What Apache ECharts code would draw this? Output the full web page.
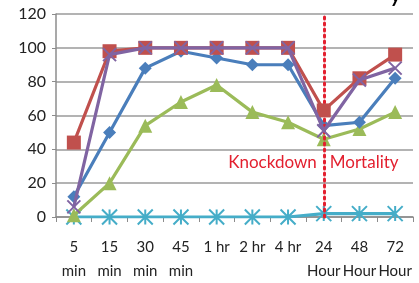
<!DOCTYPE html>
<html>
<head>
<meta charset="utf-8">
<script src="https://cdn.jsdelivr.net/npm/echarts@6/dist/echarts.min.js"></script>
<style>
  html, body { margin: 0; padding: 0; background: #fff; }
  #chart { width: 419px; height: 283px; }
</style>
</head>
<body>
<div id="chart"></div>
<script>
// time points
const categories = ['5\nmin', '15\nmin', '30\nmin', '45\nmin', '1 hr', '2 hr', '4 hr', '24\nHour', '48\nHour', '72\nHour']

// % values per series
const blueVals = [12, 50, 88, 98, 94, 90, 90, 54, 56, 82]
const redVals = [44, 98, 100, 100, 100, 100, 100, 63, 82, 96]
const purpleVals = [6, 96, 100, 100, 100, 100, 100, 51, 81, 88]
const greenVals = [1, 20, 54, 68, 78, 62, 56, 46, 52, 62]
const cyanVals = [0, 0, 0, 0, 0, 0, 0, 2, 2, 2]

const yTicks = { min: 0, max: 120, interval: 20 }
const splitAt = '24\nHour'
const labelLevel = 32

const FONT = 'Lato'
const RED_TXT = '#E3202F'

const xMark = 'path://M0,0 L20,20 M20,0 L0,20'
const starMark = 'path://M0,0 L20,20 M20,0 L0,20 M10,0 L10,20'

function lineSeries(name, data, color, symbol, size, z, stroked) {
  return {
    name,
    type: 'line',
    data,
    z,
    symbol,
    symbolSize: size,
    showAllSymbol: true,
    lineStyle: { color, width: 3.2 },
    itemStyle: stroked
      ? { color: 'rgba(0,0,0,0)', borderColor: color, borderWidth: 2 }
      : { color },
    emphasis: { disabled: true },
    animation: false
  }
}

const chart = echarts.init(document.getElementById('chart'))

const option = {
  animation: false,
  grid: { left: 56, right: 6, top: 14, bottom: 65 },
  xAxis: {
    type: 'category',
    data: categories,
    boundaryGap: true,
    axisLine: { lineStyle: { color: '#8c8c8c', width: 1.5 } },
    axisTick: { show: true, length: 5, lineStyle: { color: '#8c8c8c' } },
    axisLabel: {
      interval: 0,
      margin: 18,
      color: '#222',
      fontFamily: FONT,
      fontSize: 15,
      lineHeight: 24
    }
  },
  yAxis: {
    type: 'value',
    min: yTicks.min,
    max: yTicks.max,
    interval: yTicks.interval,
    axisLine: { show: true, lineStyle: { color: '#8c8c8c', width: 1.5 } },
    axisTick: { show: true, length: 4, lineStyle: { color: '#8c8c8c' } },
    splitLine: { lineStyle: { color: '#9a9a9a', width: 1.5 } },
    axisLabel: { color: '#222', fontFamily: FONT, fontSize: 16, margin: 10 }
  },
  series: [
    lineSeries('cyan', cyanVals, '#45ADC8', starMark, 15, 2, true),
    lineSeries('green', greenVals, '#9BBB59', 'triangle', 14, 3),
    lineSeries('blue', blueVals, '#4A7EBB', 'diamond', 13, 4),
    Object.assign(lineSeries('red', redVals, '#C0504D', 'rect', 14, 5), {
      markLine: {
        silent: true,
        symbol: 'none',
        label: { show: false },
        lineStyle: { color: RED_TXT, type: [2, 4], width: 3, cap: 'round' },
        data: [{ xAxis: splitAt }]
      }
    }),
    lineSeries('purple', purpleVals, '#8064A2', xMark, 13, 6, true)
  ]
}

chart.setOption(option)

// labels either side of the dotted divider
const p = chart.convertToPixel({ gridIndex: 0 }, [categories.indexOf(splitAt), labelLevel])
chart.setOption({
  graphic: [
    {
      type: 'text', x: p[0] - 7, y: p[1],
      style: { text: 'Knockdown', fill: RED_TXT, font: '17px ' + FONT, align: 'right', verticalAlign: 'middle' }
    },
    {
      type: 'text', x: p[0] + 6, y: p[1],
      style: { text: 'Mortality', fill: RED_TXT, font: '17px ' + FONT, align: 'left', verticalAlign: 'middle' }
    },
    {
      // tail of the cut-off title at the top edge
      type: 'text', right: 18, top: -14,
      style: { text: 'y', fill: '#000', font: 'italic bold 20px ' + FONT }
    }
  ]
})
</script>
</body>
</html>
